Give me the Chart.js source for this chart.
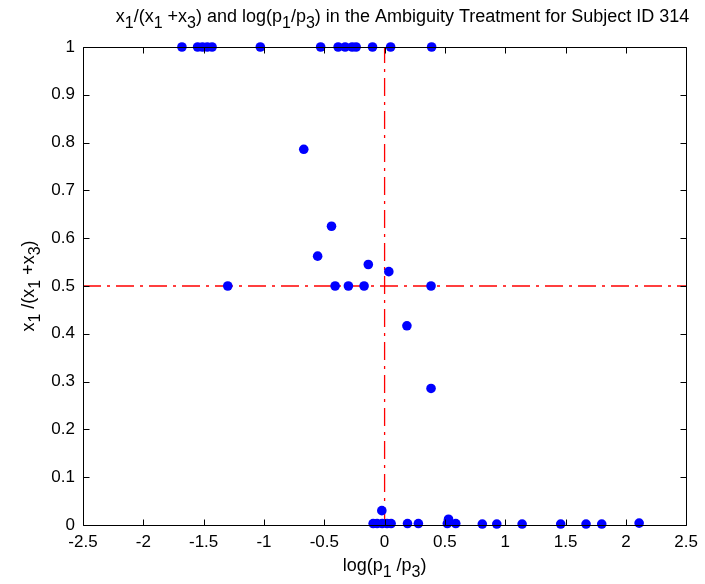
<!DOCTYPE html>
<html>
<head>
<meta charset="utf-8">
<script src="https://cdn.jsdelivr.net/npm/chart.js@4.4.1/dist/chart.umd.min.js"></script>
<style>
  html, body { margin: 0; padding: 0; background: #ffffff; }
  #wrap { width: 705px; height: 584px; }
</style>
</head>
<body>
<div id="wrap"><canvas id="c" width="705" height="584"></canvas></div>
<script>
// Subject 314, ambiguity treatment: one entry per decision
const logRatio = [
  -1.68, -1.55, -1.51, -1.47, -1.43, -1.03, -0.53, -0.385, -0.327, -0.269, -0.236, -0.10, 0.05, 0.39,
  -0.67, -0.44, -0.555, -0.135, 0.035, -1.30, -0.41, -0.30, -0.17, 0.385, 0.185, 0.385,
  -0.095, -0.062, -0.02, 0.02, 0.054, -0.023, 0.19, 0.28, 0.52, 0.53, 0.59, 0.81, 0.93, 1.14, 1.46, 1.67, 1.80, 2.11
];
const shareX1 = [
  1, 1, 1, 1, 1, 1, 1, 1, 1, 1, 1, 1, 1, 1,
  0.786, 0.625, 0.5625, 0.545, 0.53, 0.5, 0.5, 0.5, 0.5, 0.5, 0.4167, 0.2857,
  0.003, 0.003, 0.003, 0.003, 0.003, 0.03, 0.003, 0.003, 0.003, 0.012, 0.003, 0.002, 0.002, 0.002, 0.002, 0.002, 0.002, 0.004
];

const xTickValues = [-2.5, -2, -1.5, -1, -0.5, 0, 0.5, 1, 1.5, 2, 2.5];
const xTickLabels = ['-2.5', '-2', '-1.5', '-1', '-0.5', '0', '0.5', '1', '1.5', '2', '2.5'];
const yTickValues = [0, 0.1, 0.2, 0.3, 0.4, 0.5, 0.6, 0.7, 0.8, 0.9, 1];
const yTickLabels = ['0', '0.1', '0.2', '0.3', '0.4', '0.5', '0.6', '0.7', '0.8', '0.9', '1'];

// reference lines: indifference in log(p1/p3) and an even split
const refLogRatio = 0;
const refShare = 0.5;

const FONT = '"Liberation Sans", Arial, Helvetica, sans-serif';
const TICK_FS = 17;
const LABEL_FS = 18;

// text with subscript runs: segments are [text, isSub]
function segFont(sub, fs) {
  return (sub ? Math.round(fs * 0.9) : fs) + 'px ' + FONT;
}
function richWidth(ctx, segs, fs) {
  let w = 0;
  for (const [t, sub] of segs) {
    ctx.font = segFont(sub, fs);
    w += ctx.measureText(t).width;
  }
  return w;
}
function drawRich(ctx, segs, cx, cy, fs) {
  const w = richWidth(ctx, segs, fs);
  let x = cx - w / 2;
  ctx.textBaseline = 'middle';
  ctx.textAlign = 'left';
  for (const [t, sub] of segs) {
    ctx.font = segFont(sub, fs);
    ctx.fillText(t, x, sub ? cy + fs * 0.38 : cy);
    x += ctx.measureText(t).width;
  }
}

const titleSegs = [['x', 0], ['1', 1], ['/(x', 0], ['1', 1], [' +x', 0], ['3', 1], [') and log(p', 0], ['1', 1], ['/p', 0], ['3', 1],
  [') in the Ambiguity Treatment for Subject ID 314', 0]];
const xLabelSegs = [['log(p', 0], ['1', 1], [' /p', 0], ['3', 1], [')', 0]];
const yLabelSegs = [['x', 0], ['1', 1], [' /(x', 0], ['1', 1], [' +x', 0], ['3', 1], [')', 0]];

const frame = {
  id: 'frame',
  afterDraw(chart) {
    const { ctx, chartArea: a, scales } = chart;
    const xs = scales.x, ys = scales.y;
    ctx.save();
    ctx.strokeStyle = '#000';
    ctx.lineWidth = 1;
    const L = Math.round(a.left) + 0.5, R = Math.round(a.right) + 0.5;
    const T = Math.round(a.top) + 0.5, B = Math.round(a.bottom) + 0.5;
    ctx.beginPath();
    ctx.rect(L, T, R - L, B - T);
    const tl = 6;
    xTickValues.forEach(v => {
      const p = Math.round(xs.getPixelForValue(v)) + 0.5;
      ctx.moveTo(p, B); ctx.lineTo(p, B - tl);
      ctx.moveTo(p, T); ctx.lineTo(p, T + tl);
    });
    yTickValues.forEach(v => {
      const p = Math.round(ys.getPixelForValue(v)) + 0.5;
      ctx.moveTo(L, p); ctx.lineTo(L + tl, p);
      ctx.moveTo(R, p); ctx.lineTo(R - tl, p);
    });
    ctx.stroke();

    ctx.fillStyle = '#000';
    drawRich(ctx, titleSegs, (a.left + a.right) / 2 + 18, 17, LABEL_FS);
    drawRich(ctx, xLabelSegs, (a.left + a.right) / 2, 566, LABEL_FS);
    ctx.translate(29, (a.top + a.bottom) / 2);
    ctx.rotate(-Math.PI / 2);
    drawRich(ctx, yLabelSegs, 0, 0, LABEL_FS);
    ctx.restore();
  }
};

const tickFont = { family: FONT, size: TICK_FS };

new Chart(document.getElementById('c'), {
  data: {
    datasets: [
      {
        type: 'scatter',
        order: 0,
        data: logRatio.map((x, i) => ({ x, y: shareX1[i] })),
        pointRadius: 4.8,
        pointHoverRadius: 4.8,
        pointBackgroundColor: '#0000ff',
        pointBorderWidth: 0,
        clip: false
      },
      {
        type: 'line',
        order: 1,
        data: [{ x: -2.5, y: refShare }, { x: 2.5, y: refShare }],
        borderColor: '#ff0000',
        borderWidth: 1.3,
        borderDash: [18, 6, 3, 6],
        pointRadius: 0,
        fill: false
      },
      {
        type: 'line',
        order: 1,
        data: [{ x: refLogRatio, y: 0 }, { x: refLogRatio, y: 1 }],
        borderColor: '#ff0000',
        borderWidth: 1.3,
        borderDash: [18, 6, 3, 6],
        pointRadius: 0,
        fill: false
      }
    ]
  },
  options: {
    responsive: false,
    devicePixelRatio: 1,
    animation: false,
    layout: { padding: { left: 0, right: 17, top: 47, bottom: 0 } },
    plugins: { legend: { display: false }, tooltip: { enabled: false }, title: { display: false } },
    scales: {
      x: {
        type: 'linear',
        min: -2.5, max: 2.5,
        grid: { display: false, drawTicks: false },
        border: { display: false },
        afterBuildTicks: s => { s.ticks = xTickValues.map(v => ({ value: v })); },
        afterFit: s => { s.height = 59; },
        ticks: {
          autoSkip: false, maxRotation: 0, padding: 7, color: '#000', font: tickFont,
          callback: (v) => xTickLabels[xTickValues.indexOf(v)]
        }
      },
      y: {
        type: 'linear',
        min: 0, max: 1,
        grid: { display: false, drawTicks: false },
        border: { display: false },
        afterBuildTicks: s => { s.ticks = yTickValues.map(v => ({ value: v })); },
        afterFit: s => { s.width = 83; },
        ticks: {
          autoSkip: false, padding: 8, color: '#000', font: tickFont,
          callback: (v) => yTickLabels[yTickValues.findIndex(t => Math.abs(t - v) < 1e-9)]
        }
      }
    }
  },
  plugins: [frame]
});
</script>
</body>
</html>
